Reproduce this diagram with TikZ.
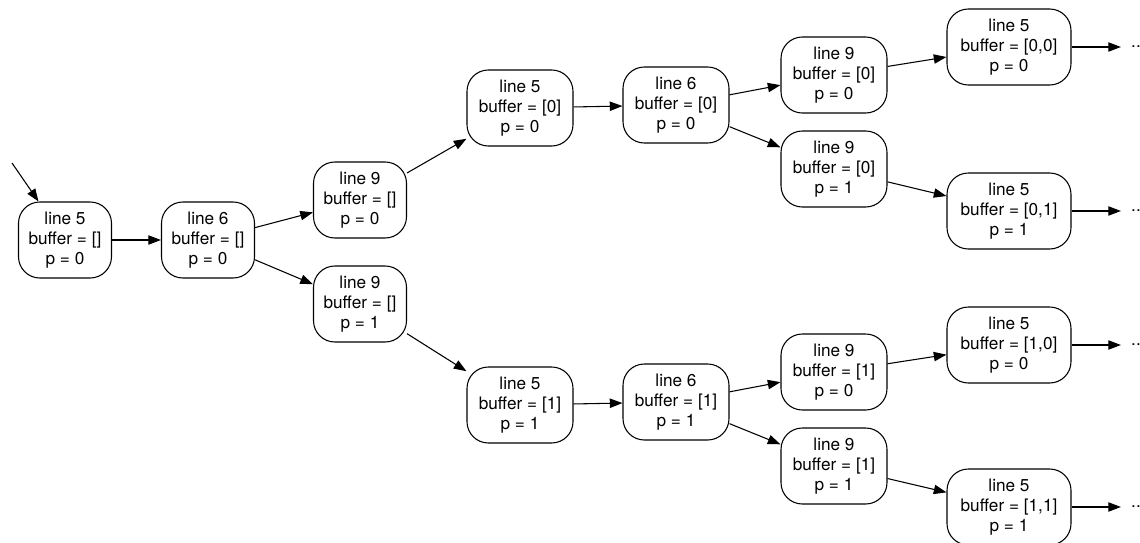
\documentclass[tikz,border=0pt]{standalone}
\usepackage{fontspec}
\setmainfont{TeX Gyre Heros}
\usetikzlibrary{arrows.meta}
\begin{document}
\begin{tikzpicture}[x=0.75pt,y=-0.75pt,
    state/.style={draw,line width=0.8pt,rectangle,rounded corners=16pt,align=center,
      inner xsep=0pt,minimum width=69.75pt,minimum height=57pt,
      font=\fontsize{12.9}{15}\selectfont},
    stateone/.style={state,minimum width=79.5pt},
    statetwo/.style={state,minimum width=93pt},
    dots/.style={inner xsep=7.5pt,font=\fontsize{12.9}{15}\selectfont}]
      \useasboundingbox (0,0) rectangle (1140,543);
      \draw
        (65,240) node[state] (0){line 5\\buffer = []\\p = 0}
        (208,240) node[state] (1){line 6\\buffer = []\\p = 0}
        (360,200) node[state] (2){line 9\\buffer = []\\p = 0}
        (360,304) node[state] (3){line 9\\buffer = []\\p = 1}
        (520,108) node[stateone] (4){line 5\\buffer = [0]\\p = 0}
        (676,105) node[stateone] (5){line 6\\buffer = [0]\\p = 0}
        (834,75) node[stateone] (6){line 9\\buffer = [0]\\p = 0}
        (834,169) node[stateone] (7){line 9\\buffer = [0]\\p = 1}
        (1009,47) node[statetwo] (8){line 5\\buffer = [0,0]\\p = 0}
        (1009,211) node[statetwo] (9){line 5\\buffer = [0,1]\\p = 1}
        (520,405) node[stateone] (10){line 5\\buffer = [1]\\p = 1}
        (676,402) node[stateone] (11){line 6\\buffer = [1]\\p = 1}
        (834,372) node[stateone] (12){line 9\\buffer = [1]\\p = 0}
        (834,466) node[stateone] (13){line 9\\buffer = [1]\\p = 1}
        (1009,345) node[statetwo] (14){line 5\\buffer = [1,0]\\p = 0}
        (1009,507) node[statetwo] (15){line 5\\buffer = [1,1]\\p = 1}
        (1136,47) node[dots] (16){..}
        (1136,211) node[dots] (17){..}
        (1136,345) node[dots] (18){..}
        (1136,507) node[dots] (19){..};
      \coordinate (s) at (12,163);
      \begin{scope}[line width=0.8pt,-{Triangle[length=9.5pt,width=7pt]}]
        \draw (s) to (0);
        \draw (0) to (1);
        \draw (1) to (2);
        \draw (1) to (3);
        \draw (2) to (4);
        \draw (3) to (10);
        \draw (4) to (5);
        \draw (5) to (6);
        \draw (5) to (7);
        \draw (6) to (8);
        \draw (7) to (9);
        \draw (10) to (11);
        \draw (11) to (12);
        \draw (11) to (13);
        \draw (12) to (14);
        \draw (13) to (15);
        \draw (8) to (16);
        \draw (9) to (17);
        \draw (14) to (18);
        \draw (15) to (19);
      \end{scope}
    \end{tikzpicture}
\end{document}
